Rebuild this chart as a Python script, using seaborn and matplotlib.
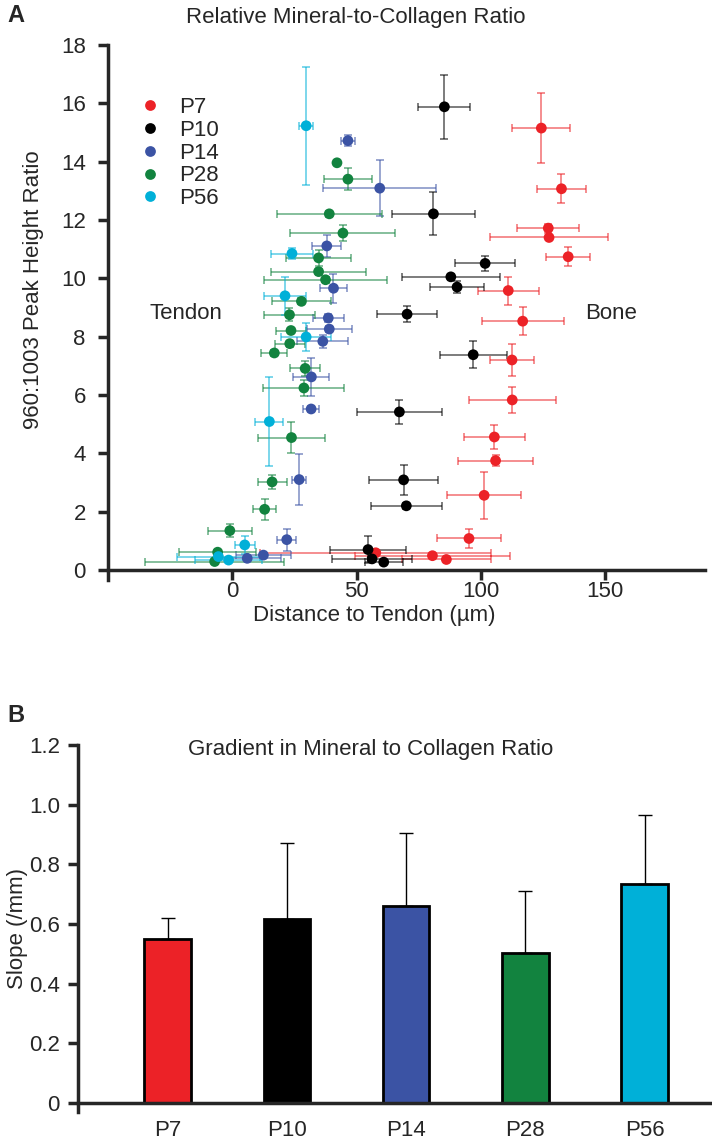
import numpy as np
import pandas as pd
import seaborn as sns
import matplotlib.pyplot as plt

sns.set_style("ticks")
plt.rcParams['font.family'] = ['Liberation Sans', 'DejaVu Sans']

groups = ["P7", "P10", "P14", "P28", "P56"]
colors = ["#EC2227", "#000000", "#3B53A4", "#12833F", "#00B0D8"]

# Panel A: distance to tendon (um), 960:1003 ratio, x error, y error
p7_x = [124.3, 132.4, 127.1, 127.4, 135.1, 111.0, 116.8, 112.5, 112.6, 105.4, 105.9, 101.3, 95.2, 57.7, 80.5, 86.1]
p7_y = [15.15, 13.07, 11.72, 11.40, 10.74, 9.58, 8.53, 7.20, 5.83, 4.56, 3.75, 2.56, 1.08, 0.59, 0.49, 0.36]
p7_xe = [11.7, 10.0, 12.4, 23.6, 8.9, 12.2, 16.5, 9.0, 17.4, 12.2, 15.2, 14.8, 12.7, 46.5, 31.3, 18.0]
p7_ye = [1.2, 0.5, 0.15, 0.08, 0.33, 0.48, 0.48, 0.55, 0.45, 0.4, 0.19, 0.8, 0.33, 0.05, 0.05, 0.05]

p10_x = [85.3, 80.9, 101.7, 87.9, 90.4, 70.3, 96.9, 67.2, 68.9, 70.0, 54.6, 56.2, 60.9]
p10_y = [15.88, 12.21, 10.51, 10.05, 9.70, 8.77, 7.38, 5.42, 3.09, 2.20, 0.70, 0.38, 0.27]
p10_xe = [10.5, 16.7, 12.2, 19.8, 11.0, 12.2, 13.5, 17.0, 13.8, 14.4, 15.2, 16.1, 7.7]
p10_ye = [1.1, 0.74, 0.25, 0.1, 0.2, 0.27, 0.46, 0.41, 0.51, 0.1, 0.46, 0.05, 0.05]

p14_x = [46.5, 59.3, 38.0, 40.7, 38.6, 39.0, 36.4, 31.8, 31.7, 26.9, 21.9, 12.5, 6.0]
p14_y = [14.72, 13.09, 11.11, 9.66, 8.64, 8.26, 7.84, 6.62, 5.52, 3.10, 1.04, 0.51, 0.40]
p14_xe = [2.9, 22.7, 5.8, 5.6, 6.2, 9.1, 10.2, 7.2, 3.3, 2.7, 3.8, 11.1, 13.4]
p14_ye = [0.2, 0.97, 0.38, 0.49, 0.15, 0.1, 0.23, 0.65, 0.1, 0.88, 0.38, 0.05, 0.05]

p28_x = [42.1, 46.5, 39.0, 44.5, 34.7, 34.7, 37.5, 27.8, 23.0, 23.6, 23.1, 16.9, 29.3, 28.8, 23.8, 16.0, 13.0, -1.0, -5.9, -7.1]
p28_y = [13.96, 13.40, 12.21, 11.55, 10.70, 10.23, 9.95, 9.21, 8.75, 8.21, 7.76, 7.44, 6.91, 6.24, 4.54, 3.02, 2.08, 1.35, 0.61, 0.29]
p28_xe = [0.0, 9.7, 21.2, 21.1, 13.0, 19.0, 24.7, 11.8, 10.4, 6.1, 6.0, 5.2, 6.0, 16.3, 13.6, 5.8, 4.6, 8.8, 15.5, 28.0]
p28_ye = [0.0, 0.38, 0.1, 0.28, 0.27, 0.1, 0.1, 0.1, 0.23, 0.1, 0.1, 0.1, 0.25, 0.28, 0.52, 0.23, 0.35, 0.23, 0.05, 0.05]

p56_x = [29.7, 24.0, 21.2, 29.7, 14.9, 5.0, -5.6, -1.5]
p56_y = [15.23, 10.85, 9.40, 7.99, 5.09, 0.86, 0.46, 0.34]
p56_xe = [2.8, 8.5, 8.6, 10.1, 5.6, 4.0, 16.7, 13.5]
p56_ye = [2.03, 0.2, 0.66, 0.48, 1.53, 0.3, 0.05, 0.05]

# Panel B: slope of the gradient and its error
slopes = [0.549, 0.617, 0.66, 0.503, 0.733]
slope_err = [0.072, 0.256, 0.246, 0.207, 0.231]

xs = [p7_x, p10_x, p14_x, p28_x, p56_x]
ys = [p7_y, p10_y, p14_y, p28_y, p56_y]
xes = [p7_xe, p10_xe, p14_xe, p28_xe, p56_xe]
yes = [p7_ye, p10_ye, p14_ye, p28_ye, p56_ye]

df = pd.concat([pd.DataFrame({"dist": x, "ratio": y, "group": g})
                for x, y, g in zip(xs, ys, groups)], ignore_index=True)

fig = plt.figure(figsize=(7.12, 11.41), dpi=100)
ax = fig.add_axes([0.1517, 0.4915, 0.838, 0.4691])
ax2 = fig.add_axes([0.1096, 0.0254, 0.888, 0.3216])

# error bars first, points on top
for x, y, xe, ye, c in zip(xs, ys, xes, yes, colors):
    ax.errorbar(x, y, xerr=xe, yerr=ye, fmt='none', ecolor=c, alpha=0.6,
                elinewidth=1.2, capsize=3, capthick=1.2, zorder=2)

sns.scatterplot(data=df, x="dist", y="ratio", hue="group", hue_order=groups,
                palette=dict(zip(groups, colors)), s=60, edgecolor='none',
                zorder=3, ax=ax)
sns.move_legend(ax, "upper left", bbox_to_anchor=(0.0, 0.94), frameon=False,
                title=None, fontsize=16, handletextpad=0.3, labelspacing=0.08,
                markerscale=1.0)

ax.set_xlim(-50, 190)
ax.set_ylim(-0.35, 18)
ax.spines['bottom'].set_position(('data', 0))
ax.set_xticks([0, 50, 100, 150])
ax.set_yticks(np.arange(0, 19, 2))
ax.tick_params(labelsize=16, width=2.5, length=7, direction='out')
ax.tick_params(axis='y', pad=9)
ax.tick_params(axis='x', pad=1)
ax.set_xlabel("Distance to Tendon (µm)", fontsize=16)
ax.set_ylabel("960:1003 Peak Height Ratio", fontsize=16)
ax.xaxis.set_label_coords(0.447, -0.047)
ax.yaxis.set_label_coords(-0.107, 0.543)
ax.text(-4, 8.8, "Tendon", fontsize=16, ha='right', va='center')
ax.text(142, 8.8, "Bone", fontsize=16, ha='left', va='center')
for s in ["left", "bottom"]:
    ax.spines[s].set_linewidth(2.5)
sns.despine(ax=ax)

fig.text(0.499, 0.985, "Relative Mineral-to-Collagen Ratio", fontsize=16,
         ha='center', va='center')
fig.text(0.01, 0.986, "A", fontsize=17, fontweight='bold', va='center')

# Panel B
sns.barplot(x=groups, y=slopes, hue=groups, palette=colors, width=0.39,
            saturation=1, edgecolor='black', linewidth=2, legend=False, ax=ax2)
ax2.errorbar(range(len(groups)), slopes,
             yerr=[np.zeros(len(slopes)), slope_err], fmt='none',
             ecolor='black', elinewidth=1, capsize=5, capthick=1, zorder=1)
ax2.set_xlim(-0.75, 4.55)
ax2.set_ylim(-0.03, 1.2)
ax2.spines['bottom'].set_position(('data', 0))
ax2.set_yticks([0, 0.2, 0.4, 0.6, 0.8, 1.0, 1.2])
ax2.set_yticklabels(["0", "0.2", "0.4", "0.6", "0.8", "1.0", "1.2"])
ax2.tick_params(axis='y', labelsize=16, width=2.5, length=7, pad=6)
ax2.tick_params(axis='x', labelsize=16, length=0, pad=12)
ax2.set_ylabel("Slope (/mm)", fontsize=16)
ax2.yaxis.set_label_coords(-0.079, 0.5)
for s in ["left", "bottom"]:
    ax2.spines[s].set_linewidth(2.5)
sns.despine(ax=ax2)

fig.text(0.52, 1 - 750 / 1141, "Gradient in Mineral to Collagen Ratio",
         fontsize=16, ha='center', va='center')
fig.text(0.01, 1 - 716 / 1141, "B", fontsize=17, fontweight='bold',
         va='center')

fig.savefig("out.png", dpi=100)
